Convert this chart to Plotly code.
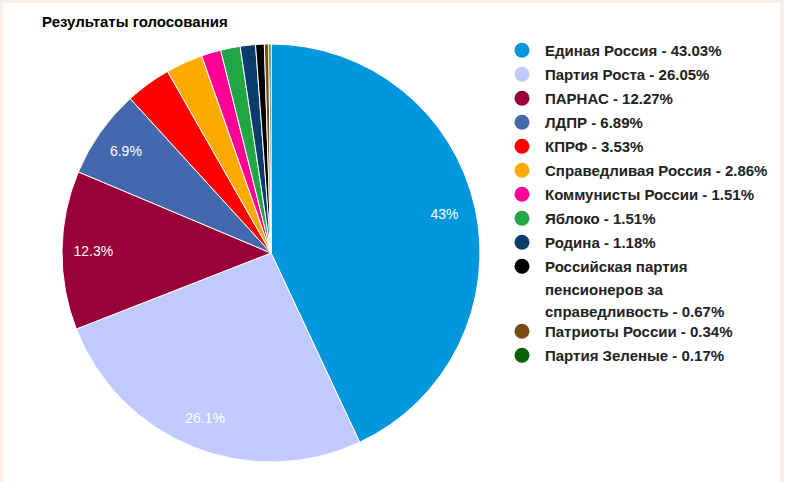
import plotly.graph_objects as go

title = "Результаты голосования"
parties = [
    "Единая Россия",
    "Партия Роста",
    "ПАРНАС",
    "ЛДПР",
    "КПРФ",
    "Справедливая Россия",
    "Коммунисты России",
    "Яблоко",
    "Родина",
    "Российская партия<br>пенсионеров за<br>справедливость",
    "Патриоты России",
    "Партия Зеленые",
]
values = [43.03, 26.05, 12.27, 6.89, 3.53, 2.86, 1.51, 1.51, 1.18, 0.67, 0.34, 0.17]
colors = ["#0097dd", "#c0caff", "#990039", "#4468ae", "#ff0000", "#ffaa00",
          "#ff0097", "#22a644", "#0a3d6c", "#000000", "#7d4a14", "#0a5f0a"]

W, H = 791, 482
slice_text = []
for v in values:
    p = round(v, 1)
    slice_text.append(f"{p:g}%" if p >= 5 else "")

FONT = "Arial, 'Liberation Sans', sans-serif"
plain_labels = [p.replace("<br>", " ") for p in parties]
pie_domain = dict(x=[62 / W, 480 / W], y=[1 - 462 / H, 1 - 44 / H])

fig = go.Figure()
# coloured slices
fig.add_trace(go.Pie(
    labels=plain_labels,
    values=values,
    sort=False,
    direction="clockwise",
    rotation=0,
    marker=dict(colors=colors, line=dict(color="white", width=1)),
    textinfo="none",
    hoverinfo="label+percent",
    showlegend=False,
    domain=pie_domain,
))
# transparent ring carrying the slice labels (places text near the rim)
fig.add_trace(go.Pie(
    labels=plain_labels,
    values=values,
    sort=False,
    direction="clockwise",
    rotation=0,
    hole=0.7,
    marker=dict(colors=["rgba(0,0,0,0)"] * len(values), line=dict(width=0)),
    text=slice_text,
    textinfo="text",
    textposition="inside",
    insidetextorientation="horizontal",
    textfont=dict(family=FONT, size=14, color="white"),
    hoverinfo="skip",
    showlegend=False,
    domain=pie_domain,
))

# legend entries (circle markers); multi-line names split into grouped rows
multi_idx = next(i for i, p in enumerate(parties) if "<br>" in p)
for i, (p, v, c) in enumerate(zip(parties, values, colors)):
    lines = p.split("<br>")
    lines[-1] = f"{lines[-1]} - {v:.2f}%"
    for j, line in enumerate(lines):
        fig.add_trace(go.Scatter(
            x=[None], y=[None], mode="markers",
            marker=dict(symbol="circle", size=15,
                        color=c if j == 0 else "rgba(0,0,0,0)"),
            name=f"<b>{line}</b>",
            legendgroup=f"g{i}",
            legend="legend" if i <= multi_idx else "legend2",
            showlegend=True,
            hoverinfo="skip",
        ))

shapes = [
    dict(type="rect", xref="paper", yref="paper", x0=0, x1=784 / W, y0=1 - 3 / H, y1=1,
         fillcolor="#f8efe9", line=dict(width=0), layer="below"),
    dict(type="rect", xref="paper", yref="paper", x0=0, x1=3 / W, y0=0, y1=1,
         fillcolor="#f8efe9", line=dict(width=0), layer="below"),
    dict(type="rect", xref="paper", yref="paper", x0=780 / W, x1=784 / W, y0=0, y1=1,
         fillcolor="#f8efe9", line=dict(width=0), layer="below"),
]

legend_style = dict(xanchor="left", yanchor="top",
                    font=dict(family=FONT, size=15, color="#222222"),
                    itemwidth=36, tracegroupgap=1.5, traceorder="grouped",
                    bgcolor="rgba(0,0,0,0)")

fig.update_layout(
    width=W, height=H,
    margin=dict(l=0, r=0, t=0, b=0),
    paper_bgcolor="white", plot_bgcolor="white",
    title=dict(text="<b>" + title + "</b>", x=42 / W, xanchor="left", y=1 - 22 / H, yanchor="middle",
               font=dict(family=FONT, size=15, color="#000000")),
    xaxis=dict(visible=False), yaxis=dict(visible=False),
    legend=dict(x=499 / W, y=1 - 34 / H, **legend_style),
    legend2=dict(x=499 / W, y=1 - 315 / H, **legend_style),
    shapes=shapes,
    showlegend=True,
)

fig.write_html("out.html", config={"displayModeBar": False},
               post_script="document.body.style.margin='0';")
